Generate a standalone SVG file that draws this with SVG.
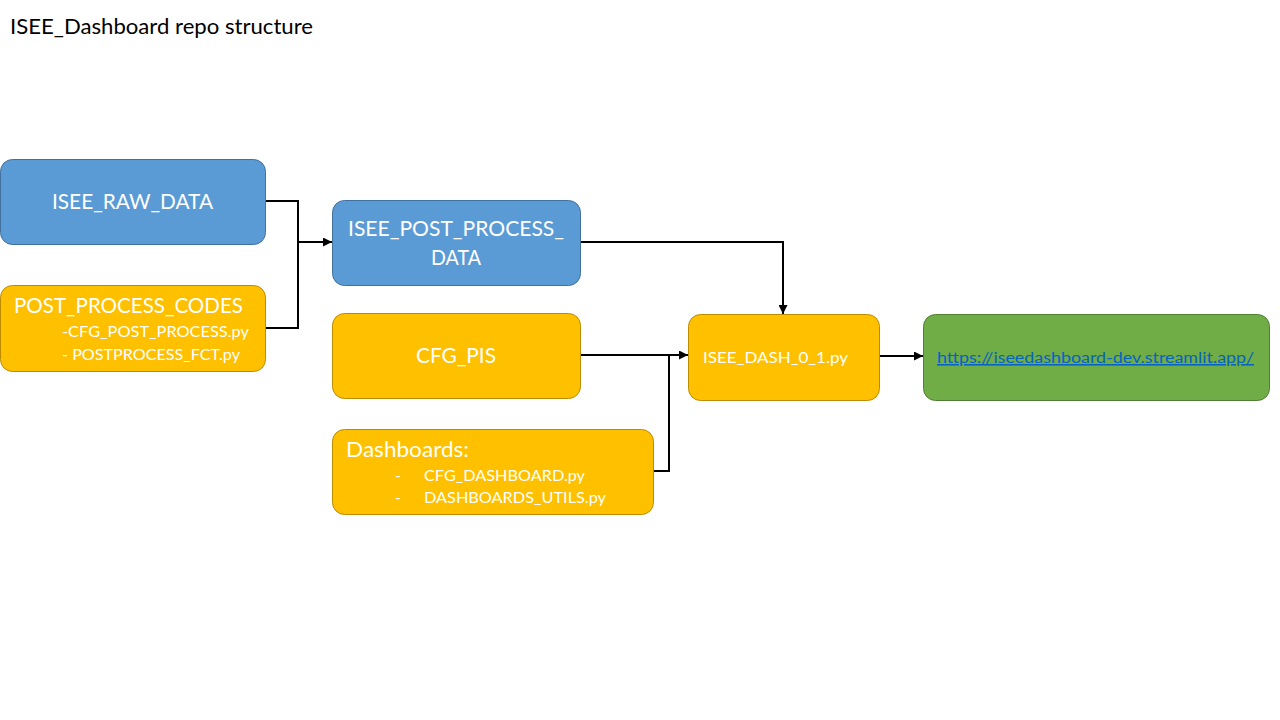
<svg xmlns="http://www.w3.org/2000/svg" width="1280" height="720" viewBox="0 0 1280 720">
<style>
text{font-family:Lato,"Open Sans","Liberation Sans",sans-serif;fill:#fff}
.blue{fill:#5B9BD5;stroke:#41719C;stroke-width:1}
.orange{fill:#FFC000;stroke:#BC8C00;stroke-width:1}
.green{fill:#70AD47;stroke:#507E32;stroke-width:1}
.big{font-size:22px}
.small{font-size:15.5px}
.conn{fill:none;stroke:#000;stroke-width:2}
</style>
<defs>
<marker id="arr" viewBox="0 0 10 10" refX="10" refY="5" markerWidth="4.5" markerHeight="4.5" orient="auto" markerUnits="strokeWidth">
<path d="M0,0 L10,5 L0,10 z" fill="#000"/>
</marker>
</defs>
<rect width="1280" height="720" fill="#fff"/>
<text x="10" y="34" style="font-size:21px;fill:#000" textLength="303" lengthAdjust="spacingAndGlyphs">ISEE_Dashboard repo structure</text>

<g id="connectors">
<path class="conn" d="M265,201 H298 V328 H265"/>
<path class="conn" d="M298,242 H332" marker-end="url(#arr)"/>
<path class="conn" d="M580,242 H783 V314" marker-end="url(#arr)"/>
<path class="conn" d="M580,355 H688" marker-end="url(#arr)"/>
<path class="conn" d="M653,471 H669 V356"/>
<path class="conn" d="M879,356 H923" marker-end="url(#arr)"/>
</g>

<g id="raw">
<rect class="blue" x="0.5" y="159.5" width="265" height="85" rx="12"/>
<text class="big" x="52" y="209" textLength="161" lengthAdjust="spacingAndGlyphs">ISEE_RAW_DATA</text>
</g>
<g id="ppcodes">
<rect class="orange" x="0.5" y="285.5" width="265" height="86" rx="12"/>
<text class="big" x="14" y="313" textLength="229" lengthAdjust="spacingAndGlyphs">POST_PROCESS_CODES</text>
<text class="small" x="62" y="337" textLength="187" lengthAdjust="spacingAndGlyphs">-CFG_POST_PROCESS.py</text>
<text class="small" x="62" y="360" textLength="178" lengthAdjust="spacingAndGlyphs">- POSTPROCESS_FCT.py</text>
</g>
<g id="ppdata">
<rect class="blue" x="332.5" y="200.5" width="248" height="85" rx="12"/>
<text class="big" x="348" y="236" textLength="216" lengthAdjust="spacingAndGlyphs">ISEE_POST_PROCESS_</text>
<text class="big" x="431" y="265" textLength="50" lengthAdjust="spacingAndGlyphs">DATA</text>
</g>
<g id="cfgpis">
<rect class="orange" x="332.5" y="313.5" width="248" height="85" rx="12"/>
<text class="big" x="416" y="363" textLength="80" lengthAdjust="spacingAndGlyphs">CFG_PIS</text>
</g>
<g id="dashboards">
<rect class="orange" x="332.5" y="429.5" width="321" height="85" rx="12"/>
<text class="big" x="346" y="457" textLength="123" lengthAdjust="spacingAndGlyphs">Dashboards:</text>
<text class="small" x="395" y="481">-</text>
<text class="small" x="424" y="481" textLength="161" lengthAdjust="spacingAndGlyphs">CFG_DASHBOARD.py</text>
<text class="small" x="395" y="503">-</text>
<text class="small" x="424" y="503" textLength="182" lengthAdjust="spacingAndGlyphs">DASHBOARDS_UTILS.py</text>
</g>
<g id="dash">
<rect class="orange" x="688.5" y="314.5" width="191" height="86" rx="12"/>
<text class="small" x="703" y="363" textLength="145" lengthAdjust="spacingAndGlyphs">ISEE_DASH_0_1.py</text>
</g>
<g id="app">
<rect class="green" x="923.5" y="314.5" width="346" height="86" rx="12"/>
<text class="small" x="937" y="363" style="fill:#0563C1;text-decoration:underline" textLength="317" lengthAdjust="spacingAndGlyphs">https://iseedashboard-dev.streamlit.app/</text>
</g>
</svg>
